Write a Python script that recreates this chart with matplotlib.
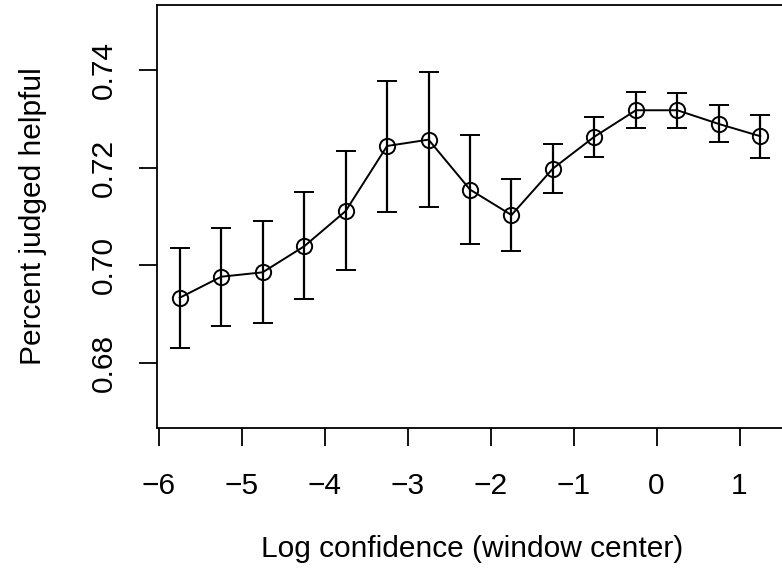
import matplotlib
matplotlib.use("Agg")
import matplotlib.pyplot as plt

# window centers (log confidence) and fraction judged helpful
centers = [-5.75, -5.25, -4.75, -4.25, -3.75, -3.25, -2.75, -2.25,
           -1.75, -1.25, -0.75, -0.25, 0.25, 0.75, 1.25]
helpful = [0.6934, 0.6977, 0.6986, 0.7039, 0.7111, 0.7244, 0.7257, 0.7155,
           0.7103, 0.7198, 0.7263, 0.7317, 0.7317, 0.7289, 0.7264]
err_low = [0.6832, 0.6876, 0.6882, 0.6931, 0.6991, 0.7110, 0.7120, 0.7043,
           0.7029, 0.7149, 0.7221, 0.7281, 0.7281, 0.7252, 0.7219]
err_high = [0.7035, 0.7077, 0.7090, 0.7150, 0.7233, 0.7376, 0.7395, 0.7267,
            0.7176, 0.7249, 0.7303, 0.7354, 0.7353, 0.7327, 0.7308]

xticks = [-6, -5, -4, -3, -2, -1, 0, 1]
yticks = [0.68, 0.70, 0.72, 0.74]

plt.rcParams["font.family"] = ["Liberation Sans", "DejaVu Sans"]
fs = 21.5

fig = plt.figure(figsize=(7.82, 5.71), dpi=100)
W, H = 782.0, 571.0
left, right, top, bottom = 156.5, 783.5, 5.0, 428.0
ax = fig.add_axes([left / W, 1 - bottom / H, (right - left) / W, (bottom - top) / H])

yerr = [[h - l for h, l in zip(helpful, err_low)],
        [u - h for h, u in zip(helpful, err_high)]]
ax.errorbar(centers, helpful, yerr=yerr, color="black", linewidth=1.4,
            elinewidth=1.6, capsize=7, capthick=1.7,
            marker="o", markersize=11, markerfacecolor="none",
            markeredgecolor="black", markeredgewidth=1.4)

ax.set_xlim(-6.03, 1.53)
ax.set_ylim(0.6668, 0.7532)
ax.set_xticks(xticks)
ax.set_yticks(yticks)
ax.set_yticklabels(["%.2f" % v for v in yticks], rotation=90, va="center")
ax.tick_params(axis="both", direction="out", length=13, width=1.3,
               labelsize=fs, color="black")
ax.tick_params(axis="x", pad=19)
ax.tick_params(axis="y", pad=15)
for s in ax.spines.values():
    s.set_linewidth(1.3)

fig.text(33 / W, 1 - 216 / H, "Percent judged helpful", rotation=90,
         ha="center", va="center", fontsize=fs)
fig.text(472 / W, 1 - 549 / H, "Log confidence (window center)",
         ha="center", va="center", fontsize=fs)

fig.savefig("out.png", dpi=100)
